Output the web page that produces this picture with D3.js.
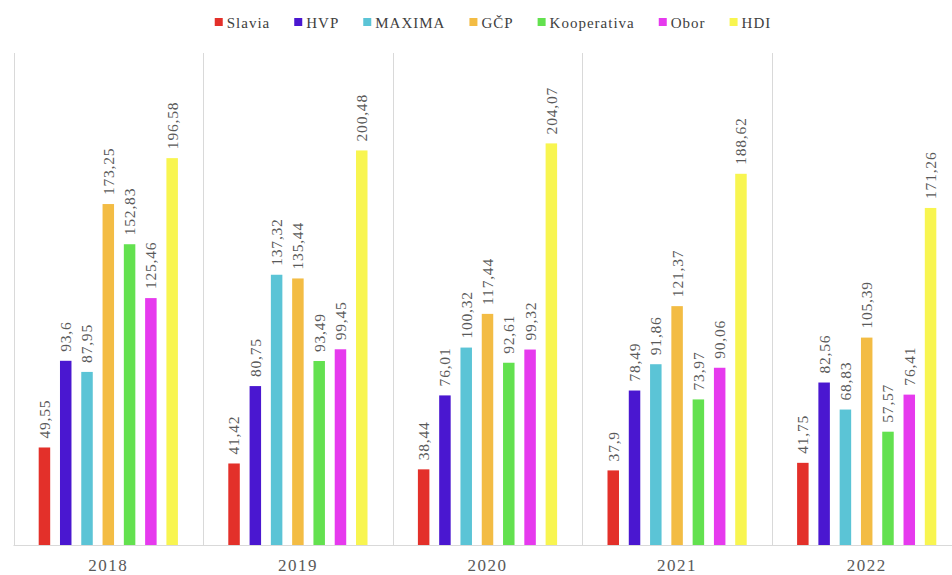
<!DOCTYPE html>
<html>
<head>
<meta charset="utf-8">
<script src="https://cdn.jsdelivr.net/npm/d3@7"></script>
<style>
  html, body { margin: 0; padding: 0; background: #fff; }
  svg { display: block; }
</style>
</head>
<body>
<div id="chart"></div>
<script>
const years = ["2018", "2019", "2020", "2021", "2022"];
const series = ["Slavia", "HVP", "MAXIMA", "GČP", "Kooperativa", "Obor", "HDI"];
const colors = ["#E3302A", "#4A17D0", "#5BC4D6", "#F3BC44", "#63E14F", "#E63AEE", "#F8F550"];
const slavia      = [49.55, 41.42, 38.44, 37.9, 41.75];
const hvp         = [93.6, 80.75, 76.01, 78.49, 82.56];
const maxima      = [87.95, 137.32, 100.32, 91.86, 68.83];
const gcp         = [173.25, 135.44, 117.44, 121.37, 105.39];
const kooperativa = [152.83, 93.49, 92.61, 73.97, 57.57];
const obor        = [125.46, 99.45, 99.32, 90.06, 76.41];
const hdi         = [196.58, 200.48, 204.07, 188.62, 171.26];
const yDomain = [0, 250];

const seriesValues = [slavia, hvp, maxima, gcp, kooperativa, obor, hdi];
const FONT = '"Liberation Serif", "Times New Roman", serif';

const W = 952, H = 575;
const svg = d3.select("#chart").append("svg").attr("width", W).attr("height", H);

const plotLeft = 13.5, plotRight = 961.5, plotTop = 53, plotBottom = 545;

const x0 = d3.scaleBand().domain(years).range([plotLeft, plotRight]).padding(0);
const x1 = d3.scaleBand().domain(series).range([-74.5, 74.5]).paddingInner(0.46).paddingOuter(0.23);
const y = d3.scaleLinear().domain(yDomain).range([plotBottom, plotTop]);
const color = d3.scaleOrdinal().domain(series).range(colors);

// separators
svg.append("g").selectAll("line").data(years).join("line")
  .attr("x1", d => Math.round(x0(d)) + 0.5).attr("x2", d => Math.round(x0(d)) + 0.5)
  .attr("y1", plotTop).attr("y2", plotBottom)
  .attr("stroke", "#d9d9d9").attr("stroke-width", 1);

// baseline
svg.append("line").attr("x1", plotLeft).attr("x2", W).attr("y1", plotBottom + 0.5).attr("y2", plotBottom + 0.5)
  .attr("stroke", "#d9d9d9").attr("stroke-width", 1);

// bars
const data = [];
years.forEach((yr, i) => series.forEach((s, j) => data.push({ yr, s, v: seriesValues[j][i] })));

const groups = svg.append("g");
groups.selectAll("rect").data(data).join("rect")
  .attr("x", d => x0(d.yr) + x0.bandwidth() / 2 + x1(d.s))
  .attr("y", d => y(d.v))
  .attr("width", x1.bandwidth())
  .attr("height", d => y(0) - y(d.v))
  .attr("fill", d => color(d.s));

// value labels
groups.selectAll("text").data(data).join("text")
  .attr("transform", d => {
    const cx = x0(d.yr) + x0.bandwidth() / 2 + x1(d.s) + x1.bandwidth() / 2;
    return `translate(${cx},${y(d.v) - 9}) rotate(-90)`;
  })
  .attr("dy", "0.35em")
  .attr("text-anchor", "start")
  .style("font-family", FONT)
  .style("font-size", "15.5px")
  .attr("letter-spacing", 0.8)
  .attr("fill", "#595959")
  .text(d => String(d.v).replace(".", ","));

// x axis labels
const xAxis = d3.axisBottom(x0).tickSize(0).tickPadding(0);
const ax = svg.append("g").attr("transform", `translate(0,${plotBottom})`).call(xAxis);
ax.select(".domain").remove();
ax.selectAll("text")
  .attr("y", 26)
  .attr("dy", 0)
  .style("font-family", FONT)
  .style("font-size", "17px")
  .attr("letter-spacing", 1.5)
  .attr("fill", "#595959");

// legend
const legend = svg.append("g");
const items = legend.selectAll("g").data(series).join("g");
items.append("rect").attr("width", 8).attr("height", 8).attr("y", 18).attr("fill", d => color(d));
items.append("text").attr("x", 12).attr("y", 27.5)
  .style("font-family", FONT)
  .style("font-size", "15px")
  .attr("letter-spacing", 1)
  .attr("fill", "#404040")
  .text(d => d);
let xpos = 0;
const gap = 24;
items.each(function () {
  const g = d3.select(this);
  g.attr("transform", `translate(${xpos},0)`);
  const tw = g.select("text").node().getComputedTextLength();
  xpos += 12 + tw + gap;
});
const totalW = xpos - gap;
legend.attr("transform", `translate(${493 - totalW / 2},0)`);
</script>
</body>
</html>
